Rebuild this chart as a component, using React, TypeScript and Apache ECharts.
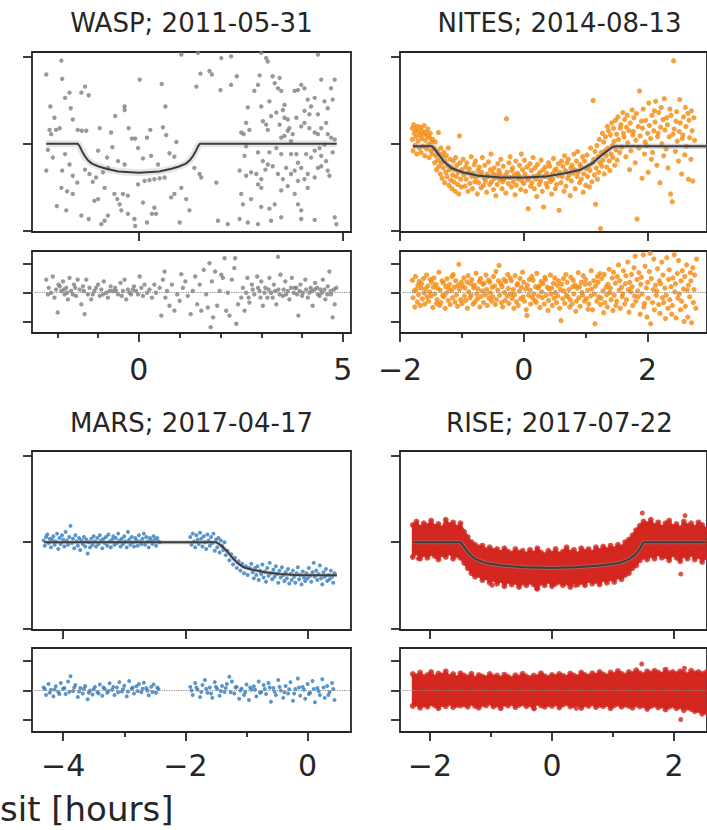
import React, { useEffect, useRef } from "react";
import * as echarts from "echarts";

const INK = "#262626";
const FONT = "DejaVu Sans";

const panelTitles = ["WASP; 2011-05-31", "NITES; 2014-08-13", "MARS; 2017-04-17", "RISE; 2017-07-22"];
const axisNameText = "sit [hours]";

const waspRange = [-2.62, 5.2];
const nitesRange = [-2.0, 2.96];
const marsRange = [-4.51, 0.71];
const riseRange = [-2.49, 2.54];
const mainYRange = [-1.02, 1.06];
const resYRange = [-1.4, 1.43];
const yTicks = [-1, 0, 1];

const waspMajor = [0, 5];
const waspMinor = [-2, -1, 1, 2, 3, 4];
const nitesMajor = [-2, 0, 2];
const nitesMinor = [-1, 1];
const marsMajor = [-4, -2, 0];
const marsMinor = [-3, -1];
const riseMajor = [-2, 0, 2];
const riseMinor = [-1, 1];

// ---------- WASP ----------
const waspMain = [
  -2.27,0.80,-1.90,0.96,-1.88,0.75,-2.17,0.43,-2.07,0.30,-1.81,0.53,-1.70,0.59,-1.67,0.41,-1.62,0.28,-1.41,0.59,-1.32,0.66,-1.23,0.56,-2.03,0.16,-1.94,0.18,-1.50,0.16,-1.40,0.15,-1.29,0.15,-2.23,-0.07,-2.11,-0.16,-2.27,-0.31,-1.88,-0.31,-1.81,-0.12,-1.70,-0.24,-1.62,-0.37,-1.51,-0.45,-1.90,-0.51,-1.76,-0.55,-1.62,-0.58,-2.01,-0.72,-1.78,-0.77,-1.41,-0.83,-1.23,-0.87,-2.19,0.16,-2.15,0.11,
  -0.96,0.18,-0.68,0.13,-0.58,0.32,-0.35,0.43,-0.35,0.39,0.02,0.74,-0.25,0.18,-0.17,0.06,-0.09,0.06,0.20,0.07,0.28,0.16,0.59,0.19,0.67,0.10,0.65,0.43,0.56,0.69,0.92,0.02,0.87,-0.15,0.30,-0.14,0.10,-0.17,-0.02,-0.05,-0.65,-0.04,-0.78,-0.16,-1.00,-0.08,-0.51,-0.20,-0.35,-0.24,0.47,-0.24,0.75,-0.11,-1.05,-0.39,-1.09,-0.66,-1.00,-0.64,-0.84,-0.51,-0.60,-0.58,-0.53,-0.64,-0.39,-0.58,-0.27,-0.60,-0.47,-0.70,-0.43,-0.77,-0.76,-0.83,-0.84,-0.89,-0.92,-0.93,-0.27,-0.81,-0.11,-0.87,-0.09,-0.95,0.10,-0.68,0.20,-0.91,0.38,-0.74,0.42,-0.81,0.32,-0.81,0.79,-0.62,0.87,-0.58,1.04,-0.51,1.16,-0.64,1.24,-0.77,1.00,-0.91,-0.02,-0.47,0.14,-0.43,0.26,-0.42,0.38,-0.41,0.51,-0.40,0.63,-0.39,1.36,-0.28,1.49,-0.35,1.53,-0.39,-0.88,-0.33,-0.76,-0.28,-1.21,-0.35,-1.32,-0.30,-1.13,-0.44,
  1.41,0.66,1.51,0.81,1.73,0.84,1.79,0.80,2.00,0.62,2.26,0.68,2.40,0.78,1.04,1.03,1.45,1.05,
  1.90,-0.45,1.94,-0.89,2.18,-0.93,2.47,-0.31,2.59,-0.14,2.63,0.24,2.67,0.42,2.57,0.11,2.71,0.16,2.83,0.61,2.92,0.68,2.96,0.79,3.00,0.43,3.12,0.22,3.16,0.16,3.04,0.26,3.20,0.49,3.28,0.78,3.33,0.70,3.41,0.64,3.45,0.76,3.49,0.61,3.53,0.39,3.57,0.45,3.37,0.36,3.24,0.32,3.65,0.28,3.69,0.18,3.82,0.61,3.90,0.62,3.98,0.68,4.06,0.64,4.14,0.51,4.22,0.43,4.31,0.53,4.39,0.34,4.47,0.74,4.55,0.49,4.63,0.41,4.71,0.64,4.80,0.74,4.75,0.51,4.59,0.24,4.47,0.18,4.39,0.11,4.31,0.13,4.18,0.18,4.06,0.24,3.98,0.20,3.86,0.30,3.77,0.11,3.73,0.03,3.65,0.15,3.57,0.09,3.49,0.07,4.63,0.11,4.71,0.07,4.80,0.05,4.55,-0.01,4.43,-0.05,4.31,-0.08,4.22,-0.16,4.10,-0.12,3.98,-0.28,3.82,-0.31,3.73,-0.35,3.61,-0.28,3.53,-0.41,3.41,-0.35,3.28,-0.26,3.16,-0.24,3.04,-0.20,2.92,-0.10,3.00,-0.51,2.92,-0.47,2.88,-0.35,2.75,-0.33,2.63,-0.37,2.51,-0.58,2.55,-0.70,2.75,-0.64,3.00,-0.73,3.20,-0.75,3.33,-0.70,3.49,-0.54,3.65,-0.49,3.82,-0.58,3.90,-0.70,3.98,-0.77,4.14,-0.51,4.31,-0.39,4.47,-0.14,4.63,-0.31,4.67,-0.37,4.75,-0.10,2.47,-0.87,2.67,-0.91,2.92,-0.93,3.24,-0.89,3.49,-0.85,3.98,-0.87,4.31,-0.88,4.80,-0.85,4.84,-0.93,2.02,0.99,2.26,1.01,3.00,1.05,3.12,0.99,3.16,0.95,4.39,1.03,3.37,-0.05,3.49,-0.12,3.86,-0.12,2.51,0.13,2.63,-0.03,4.47,-0.26,4.14,-0.35,4.06,-0.41,3.90,-0.43,3.00,-0.41,3.10,-0.30,3.20,-0.10,3.73,-0.12,3.90,-0.22,4.39,-0.28,4.59,-0.20,3.57,0.30,3.45,0.22,4.06,0.38,4.18,0.34
];
const waspRes = [
  -2.27,0.44,-2.21,0.16,-2.15,-0.01,-2.11,0.55,-2.07,-0.18,-1.99,-0.69,-1.97,0.27,-1.90,0.05,-1.86,0.38,-1.82,-0.07,-1.78,0.16,-1.74,-0.24,-1.70,0.50,-1.66,0.05,-1.59,0.27,-1.54,-0.12,-1.50,0.44,-1.45,0.10,-1.41,-0.41,-1.37,0.21,-1.33,-0.75,-1.29,0.44,-1.25,-0.07,-1.21,0.16,-1.17,-0.24,-1.09,0.05,-1.00,0.27,-0.96,-0.12,-0.92,0.10,-0.86,0.38,-0.80,-0.01,-0.76,-0.18,-0.69,0.21,-0.64,0.05,-0.58,0.16,-0.51,-0.07,-0.45,0.33,-0.39,0.05,-0.35,0.44,-0.31,-0.24,-0.27,0.10,-0.19,-0.07,-0.12,0.21,-0.07,0.05,0.02,0.55,0.06,0.16,0.10,-0.12,0.14,0.27,0.20,-0.01,0.26,0.10,0.32,-0.18,0.38,0.27,0.42,-0.01,0.51,0.16,0.55,-0.80,0.59,0.44,0.63,0.72,0.65,-0.18,0.69,0.05,0.75,-0.46,0.81,0.27,0.87,-0.63,0.94,-0.07,1.00,-0.29,1.04,0.63,1.08,0.16,1.14,0.38,1.20,-0.12,1.27,-0.75,1.32,0.05,1.38,0.55,1.43,-0.41,1.49,0.27,1.53,-0.63,1.59,0.78,1.65,-0.07,1.69,-0.52,1.73,1.01,1.76,-1.20,1.79,0.38,1.82,-0.86,1.87,0.72,1.92,-0.46,1.98,0.05,2.02,0.61,2.06,0.50,2.10,1.18,2.14,-0.63,2.18,-0.01,2.22,-0.80,2.28,0.44,2.34,0.84,2.36,1.18,2.39,-1.08,2.43,-0.41,2.51,-0.18,2.55,0.16,2.59,-0.63,2.66,0.50,2.71,-0.35,2.77,0.27,2.83,-0.07,2.90,0.55,2.96,0.05,3.00,0.38,3.04,-0.46,3.10,0.16,3.15,-0.18,3.20,0.50,3.24,-0.01,3.31,0.27,3.37,-0.41,3.42,0.10,3.47,0.61,3.41,1.23,3.53,-0.12,3.59,0.38,3.65,0.05,3.69,-0.24,3.75,0.50,3.82,0.16,3.88,-0.07,3.91,-0.80,3.96,0.27,4.02,-0.01,4.08,0.44,4.14,-0.18,4.21,0.16,4.26,-0.46,4.32,0.33,4.39,-0.07,4.45,0.10,4.51,0.44,4.57,-0.24,4.63,0.21,4.67,0.72,4.71,-0.07,4.75,-0.86,4.80,-0.41,4.84,0.16,
  -2.23,-0.07,-2.03,0.10,-1.94,0.21,-1.84,0.10,-1.76,-0.01,-1.62,-0.07,-1.56,0.16,-1.35,0.05,-1.13,-0.07,-1.05,0.16,-0.88,-0.07,-0.72,0.05,-0.56,0.05,-0.42,-0.12,-0.23,-0.01,-0.15,0.10,-0.02,-0.07,2.63,-0.01,2.69,-0.18,2.79,0.10,2.92,0.16,2.98,-0.18,3.08,-0.01,3.18,0.10,3.28,-0.18,3.34,0.05,3.45,-0.07,3.55,0.10,3.61,-0.07,3.73,0.16,3.80,-0.01,3.86,0.16,3.94,0.05,4.00,-0.12,4.10,0.10,4.18,-0.01,4.24,0.05,4.31,0.10,4.37,0.16,4.43,-0.12,4.49,-0.01,4.55,0.10,4.62,-0.07,4.70,0.05,4.78,0.10
];
const waspModel = [-2.27,0,-1.50,0,-1.45,-0.03,-1.40,-0.08,-1.33,-0.14,-1.25,-0.19,-1.15,-0.23,-1.00,-0.26,-0.80,-0.29,-0.50,-0.32,0,-0.335,0.50,-0.32,0.80,-0.29,1.00,-0.26,1.15,-0.23,1.25,-0.19,1.33,-0.14,1.40,-0.08,1.45,-0.03,1.50,0,4.85,0];

// ---------- NITES ----------
const nitesMain = [
  -1.80,0.18,-1.80,0.05,-1.79,-0.08,-1.78,0.22,-1.77,0.12,-1.76,-0.02,-1.75,0.16,-1.74,0.08,-1.73,-0.12,-1.72,0.20,-1.71,0.03,-1.70,0.14,-1.69,-0.05,-1.68,0.10,-1.67,0.19,-1.66,-0.10,-1.65,0.06,-1.64,0.15,-1.63,-0.03,-1.62,0.11,-1.61,0.21,-1.60,-0.14,-1.59,0.04,-1.58,0.13,-1.57,-0.06,-1.56,0.09,-1.55,0.17,-1.54,-0.01,-1.53,-0.16,-1.52,0.07,-1.51,0.12,-1.50,-0.08,-1.49,0.02,-1.48,-0.12,-1.47,0.05,
  -1.45,-0.05,-1.44,-0.22,-1.43,0.02,-1.42,-0.14,-1.41,-0.30,-1.40,-0.08,-1.39,-0.19,-1.38,0.13,-1.37,-0.26,-1.36,-0.12,-1.35,-0.35,-1.34,-0.05,-1.33,-0.22,-1.32,-0.40,-1.31,-0.15,-1.30,-0.28,-1.29,-0.10,-1.28,-0.45,-1.27,-0.20,-1.26,-0.33,-1.25,-0.14,-1.24,-0.38,-1.23,-0.25,-1.22,-0.05,-1.21,-0.48,-1.20,-0.30,-1.19,-0.18,-1.18,-0.42,-1.17,-0.27,-1.16,-0.52,-1.15,-0.36,-1.14,-0.20,-1.13,-0.44,-1.12,-0.30,-1.11,-0.55,-1.10,-0.16,-1.09,-0.38,-1.08,-0.25,-1.07,-0.47,-1.06,-0.33,-1.05,-0.58,-1.04,0.09,-1.03,-0.22,-1.02,-0.41,-1.01,-0.50,-1.00,-0.30,
  -0.98,-0.18,-0.97,-0.36,-0.95,-0.49,-0.94,-0.27,-0.93,-0.41,-0.92,-0.22,-0.90,-0.55,-0.89,-0.33,-0.88,-0.29,-0.87,-0.46,-0.85,-0.15,-0.84,-0.38,-0.83,-0.52,-0.82,-0.34,-0.80,-0.24,-0.79,-0.44,-0.78,-0.20,-0.77,-0.39,-0.75,-0.58,-0.74,-0.31,-0.73,-0.45,-0.72,-0.27,-0.70,-0.36,-0.69,-0.51,-0.68,-0.33,-0.67,-0.16,-0.65,-0.48,-0.64,-0.40,-0.63,-0.25,-0.62,-0.43,-0.60,-0.56,-0.59,-0.35,-0.58,-0.38,-0.57,-0.21,-0.55,-0.47,-0.54,-0.30,-0.53,-0.12,-0.52,-0.44,-0.50,-0.34,-0.49,-0.53,-0.48,-0.28,-0.47,-0.40,-0.45,-0.60,-0.44,-0.36,-0.43,-0.47,-0.42,-0.23,-0.40,-0.31,-0.39,-0.42,-0.38,-0.35,-0.37,-0.18,-0.35,-0.52,-0.34,-0.44,-0.33,-0.26,-0.32,-0.41,-0.30,-0.37,-0.29,-0.57,-0.28,0.29,-0.27,-0.33,-0.25,-0.46,-0.24,-0.22,-0.23,-0.39,-0.22,-0.15,-0.20,-0.50,-0.19,-0.31,-0.18,-0.28,-0.17,-0.44,-0.15,-0.36,-0.14,-0.59,-0.13,-0.20,-0.12,-0.48,-0.10,-0.34,-0.09,-0.41,-0.08,-0.37,-0.07,-0.25,-0.05,-0.53,-0.04,-0.12,-0.03,-0.43,-0.02,-0.30,0.00,-0.46,0.01,-0.19,
  0.02,-0.35,0.03,-0.55,0.05,-0.27,0.06,-0.42,0.07,-0.75,0.08,-0.40,0.10,-0.23,0.11,-0.49,0.12,-0.31,0.13,-0.45,0.15,-0.16,0.16,-0.38,0.17,-0.52,0.18,-0.28,0.20,-0.41,0.21,-0.61,0.22,-0.24,0.23,-0.36,0.25,-0.47,0.26,-0.33,0.27,-0.43,0.28,-0.19,0.30,-0.55,0.31,-0.30,0.32,-0.73,0.33,-0.38,0.35,-0.27,0.36,-0.46,0.37,-0.34,0.38,-0.50,0.40,-0.22,0.41,-0.40,0.42,-0.26,0.43,-0.44,0.45,-0.58,0.46,-0.35,0.47,-0.41,0.48,-0.17,0.50,-0.31,0.51,-0.52,0.52,-0.29,0.53,-0.47,0.55,-0.37,0.56,-0.23,0.57,-0.77,0.58,-0.33,0.60,-0.45,0.61,-0.20,0.62,-0.38,0.63,-0.26,0.65,-0.55,0.66,-0.14,0.67,-0.31,0.68,-0.49,0.70,-0.22,0.71,-0.40,0.72,-0.18,0.73,-0.36,0.75,-0.60,0.76,-0.28,0.77,-0.43,0.78,-0.25,0.80,-0.34,0.81,-0.12,0.82,-0.30,0.83,-0.52,0.85,-0.20,0.86,-0.38,0.87,-0.09,0.88,-0.33,0.90,-0.45,0.91,-0.24,0.92,-0.27,0.93,-0.41,0.95,-0.15,0.96,-0.56,0.97,-0.35,0.98,-0.20,1.00,-0.48,1.01,-0.29,1.02,-0.13,1.03,-0.38,1.05,-0.26,1.06,-0.50,1.07,-0.31,1.08,-0.05,1.10,-0.44,1.11,-0.22,
  1.12,0.50,1.13,-0.18,1.14,-0.36,1.15,-0.09,1.16,-0.70,1.17,-0.28,1.18,-0.02,1.19,-0.41,1.20,-0.15,1.21,-0.33,1.22,0.05,1.23,-0.22,1.24,-0.98,1.25,-0.10,1.26,-0.26,1.27,0.12,1.28,-0.19,1.29,0.02,1.30,-0.35,1.31,-0.08,1.32,0.08,1.33,-0.14,1.34,-0.27,1.35,0.20,1.36,-0.05,1.37,0.15,1.38,-0.20,1.39,-0.31,1.40,0.10,1.41,-0.12,1.42,0.24,1.43,-0.02,1.44,-0.16,1.45,0.18,1.46,0.03,1.47,-0.25,1.48,0.27,1.49,-0.07,1.50,0.11,1.51,-0.19,
  1.52,0.31,1.53,0.05,1.55,-0.10,1.56,0.18,1.57,0.22,1.58,-0.04,1.60,0.36,1.61,0.12,1.62,0.08,1.63,0.28,1.65,-0.15,1.66,0.19,1.67,0.33,1.68,0.01,1.70,0.15,1.71,-0.30,1.72,0.24,1.73,-0.08,1.75,0.39,1.76,0.10,1.77,0.14,1.78,0.30,1.80,-0.22,1.81,0.04,1.82,0.35,1.83,-0.87,1.85,0.20,1.86,-0.05,1.87,0.61,1.88,0.09,1.90,0.26,1.91,-0.40,1.92,0.18,1.93,0.40,1.95,-0.12,1.96,0.02,1.97,0.27,1.98,-0.02,2.00,0.12,2.01,-0.33,2.02,0.47,2.03,0.21,2.05,0.06,2.06,-0.18,2.07,0.33,2.08,-0.10,2.10,0.15,2.11,0.38,2.12,0.25,2.13,0.49,2.15,-0.25,2.16,0.08,2.17,0.12,2.18,0.36,2.20,-0.45,2.21,0.19,2.22,0.42,2.23,0.00,2.25,0.28,2.26,-0.14,2.27,0.52,2.28,0.16,2.30,-0.06,2.31,0.30,2.32,0.22,2.33,-0.28,2.35,0.08,2.36,0.40,2.37,-0.58,2.38,0.33,2.40,-0.67,2.41,0.11,2.42,0.96,2.43,0.17,2.45,-0.09,2.46,0.26,2.47,0.37,2.48,0.03,2.50,-0.20,2.51,0.14,2.52,0.51,2.53,0.24,2.55,-0.35,2.56,0.06,2.57,0.10,2.58,0.31,2.60,-0.13,2.61,0.42,2.62,0.20,2.63,-0.03,2.65,0.35,2.66,-0.41,2.67,0.27,2.68,0.07,2.70,-0.18,2.71,0.38,2.72,0.15,2.73,-0.43,2.75,0.30,2.76,0.04
];
const nitesRes = [
  -1.80,0.42,-1.79,-0.18,-1.77,0.05,-1.76,-0.50,-1.75,0.55,-1.74,0.10,-1.72,-0.33,-1.71,0.25,-1.70,-0.08,-1.69,0.38,-1.67,-0.45,-1.66,0.15,-1.65,0.30,-1.64,-0.22,-1.62,0.48,-1.61,-0.02,-1.60,-0.40,-1.59,0.12,-1.57,0.60,-1.56,-0.15,-1.55,0.22,-1.54,-0.30,-1.52,0.02,-1.51,0.45,-1.50,-0.12,-1.49,0.35,-1.47,-0.52,-1.46,0.18,-1.45,0.50,-1.44,-0.05,-1.42,0.28,-1.41,-0.38,-1.40,-0.25,-1.39,0.14,-1.37,0.70,-1.36,-0.45,-1.35,0.08,-1.34,-0.35,-1.32,0.40,-1.31,-0.10,-1.30,0.33,-1.29,-0.15,-1.27,-0.55,-1.26,0.20,-1.25,-0.02,-1.24,0.47,-1.22,-0.28,-1.21,0.12,-1.20,0.27,-1.19,-0.42,-1.17,0.06,-1.16,0.55,-1.15,-0.18,-1.14,0.62,-1.12,0.18,-1.11,-0.33,-1.10,0.40,-1.09,-0.08,-1.07,-0.48,-1.06,0.25,-1.05,0.97,-1.04,0.10,-1.02,-0.25,-1.01,0.35,
  -1.00,-0.38,-0.99,0.22,-0.97,0.50,-0.96,-0.12,-0.95,0.15,-0.94,-0.28,-0.92,0.36,-0.91,-0.55,-0.90,0.58,-0.89,0.02,-0.87,-0.18,-0.86,0.30,-0.85,-0.10,-0.84,0.44,-0.82,-0.40,-0.81,0.16,-0.80,0.25,-0.79,-0.33,-0.77,0.66,-0.76,-0.05,-0.75,-0.22,-0.74,0.12,-0.72,0.38,-0.71,-0.50,-0.70,0.48,-0.69,-0.14,-0.67,0.05,-0.66,0.28,-0.65,-0.35,-0.64,0.32,-0.62,-0.08,-0.61,0.60,-0.60,0.10,-0.59,-0.45,-0.57,0.42,-0.56,-0.20,-0.55,0.35,-0.54,-0.02,-0.52,-0.30,-0.51,0.18,-0.50,-0.15,-0.49,0.55,-0.47,0.22,-0.46,-0.42,-0.45,0.72,-0.44,-0.25,-0.42,0.08,-0.41,0.40,-0.40,0.93,-0.39,-0.10,-0.37,0.30,-0.36,-0.35,-0.35,0.20,-0.34,-0.50,-0.32,0.45,-0.31,0.00,-0.30,-0.28,-0.29,0.38,-0.27,-0.12,-0.26,0.62,-0.25,0.14,-0.24,-0.38,-0.22,0.50,-0.21,-0.05,-0.20,0.40,-0.19,-0.20,-0.17,0.10,-0.16,-0.55,-0.15,-0.08,-0.14,0.58,-0.12,-0.32,-0.11,0.26,-0.10,0.30,-0.09,-0.45,-0.07,0.05,-0.06,0.48,-0.05,-0.22,-0.04,0.18,-0.02,0.70,-0.01,-0.15,
  0.00,0.35,0.01,-0.30,0.03,0.12,0.04,-0.60,0.05,-0.80,0.06,0.25,0.08,-0.10,0.09,0.45,0.10,0.08,0.11,-0.40,0.13,0.55,0.14,-0.18,0.15,0.42,0.16,-0.05,0.18,-0.28,0.19,0.20,0.20,-0.35,0.21,0.66,0.23,0.15,0.24,-0.12,0.25,0.22,0.26,-0.52,0.28,0.38,0.29,0.02,0.30,-0.18,0.31,0.30,0.33,-0.40,0.34,0.52,0.35,0.45,0.36,-0.10,0.38,0.18,0.39,-0.62,0.40,-0.28,0.41,0.12,0.43,0.60,0.44,-0.05,0.45,0.15,0.46,-0.45,0.48,0.32,0.49,-0.20,0.50,0.50,0.51,0.00,0.53,-0.35,0.54,0.25,0.55,-0.12,0.56,0.40,0.58,-0.55,0.59,0.10,0.60,-0.97,0.61,0.28,0.63,-0.22,0.64,0.48,0.65,0.05,0.66,-0.38,0.68,0.62,0.69,-0.10,0.70,0.35,0.71,-0.15,0.73,0.10,0.74,-0.50,0.75,-0.25,0.76,0.52,0.78,-0.40,0.79,0.20,0.80,0.42,0.81,-0.05,0.83,0.25,0.84,-0.65,0.85,-0.30,0.86,0.15,0.88,0.68,0.89,-0.18,0.90,0.20,0.91,-0.48,0.93,0.35,0.94,0.00,0.95,-0.10,0.96,0.58,0.98,-0.30,0.99,0.28,
  1.00,0.45,1.01,-0.22,1.03,0.08,1.04,-0.58,1.05,-0.40,1.06,0.30,1.08,-0.12,1.09,0.75,1.10,0.12,1.11,-0.60,1.13,0.40,1.14,-0.05,1.15,-1.08,1.16,0.22,1.18,-0.30,1.19,0.55,1.20,0.35,1.21,-0.15,1.23,0.65,1.24,-0.42,1.25,-0.20,1.26,0.48,1.28,0.05,1.29,-0.70,1.30,0.62,1.31,-0.35,1.33,0.18,1.34,-0.08,1.35,-0.50,1.36,0.28,1.38,0.80,1.39,0.00,1.40,0.15,1.41,-0.25,1.43,0.50,1.44,-0.62,1.45,0.70,1.46,-0.10,1.48,0.32,1.49,-0.45,1.50,-0.30,1.51,0.55,1.53,0.95,1.54,0.08,1.55,0.40,1.56,-0.55,1.58,0.18,1.59,-0.15,1.60,-0.05,1.61,0.75,1.63,-0.40,1.64,0.30,1.65,0.58,1.66,-0.25,1.68,1.05,1.69,0.10,1.70,-0.68,1.71,0.35,1.73,0.02,1.74,0.62,1.75,0.20,1.76,-0.45,1.78,0.85,1.79,-0.12,1.80,1.25,1.81,-0.30,1.83,0.45,1.84,0.05,1.85,-0.15,1.86,0.68,1.88,-0.75,1.89,0.28,1.90,0.52,1.91,-0.05,1.93,1.30,1.94,-0.50,1.95,-0.38,1.96,0.90,1.98,0.15,1.99,-0.85,
  2.00,0.35,2.01,-0.20,2.03,0.72,2.04,1.35,2.05,-1.08,2.06,0.48,2.08,-0.35,2.09,0.10,2.10,1.15,2.11,-0.60,2.13,0.25,2.14,-0.10,2.15,0.05,2.16,0.82,2.18,-0.42,2.19,0.40,2.20,-0.72,2.21,0.30,2.23,1.05,2.24,-0.18,2.25,0.60,2.26,-0.35,2.28,0.15,2.29,-0.90,2.30,-0.10,2.31,1.20,2.33,-0.55,2.34,0.45,2.35,0.78,2.36,-0.25,2.38,0.20,2.39,-0.75,2.40,-0.45,2.41,0.50,2.43,1.30,2.44,0.02,2.45,0.30,2.46,-0.88,2.48,0.65,2.49,-0.20,2.50,1.10,2.51,-0.05,2.53,-0.60,2.54,0.40,2.55,-0.30,2.56,0.75,2.58,0.12,2.59,-1.00,2.60,0.55,2.61,-0.48,2.63,0.95,2.64,0.08,2.65,-0.85,2.66,0.25,2.68,-0.15,2.69,0.68,2.70,0.40,2.71,-1.05,2.73,0.85,2.74,-0.35,2.75,0.10,2.76,0.60,2.78,-0.55,2.79,1.15
];
const nitesModel = [-1.79,-0.03,-1.48,-0.03,-1.40,-0.10,-1.30,-0.20,-1.17,-0.28,-0.99,-0.33,-0.73,-0.37,-0.37,-0.39,0,-0.39,0.35,-0.38,0.66,-0.34,0.92,-0.30,1.12,-0.22,1.28,-0.12,1.43,-0.04,1.48,-0.03,2.95,-0.03];

// ---------- MARS ----------
const marsMain = [
  -4.32,0.02,-4.30,-0.04,-4.28,0.06,-4.26,0.09,-4.24,-0.01,-4.22,0.04,-4.20,-0.06,-4.18,0.03,-4.16,0.07,-4.14,-0.03,-4.12,0.01,-4.10,0.10,-4.08,-0.08,-4.06,0.05,-4.04,-0.02,-4.02,0.08,-4.00,0.03,-3.98,-0.05,-3.96,0.12,-3.94,0.02,-3.92,-0.03,-3.90,0.06,-3.88,0.19,-3.86,-0.01,-3.84,0.04,-3.82,-0.07,-3.80,0.08,-3.78,0.01,-3.76,-0.04,-3.74,0.05,-3.72,-0.09,-3.70,0.02,-3.68,-0.02,-3.66,0.06,-3.64,-0.05,-3.62,0.03,-3.60,-0.13,-3.58,0.00,-3.56,-0.06,-3.54,0.04,-3.52,-0.03,-3.50,0.07,-3.48,0.01,-3.46,-0.05,-3.44,0.05,-3.42,-0.02,-3.40,0.08,-3.38,0.02,-3.36,-0.07,-3.34,0.04,-3.32,-0.01,-3.30,0.06,-3.28,-0.04,-3.26,0.09,-3.24,0.01,-3.22,-0.06,-3.20,0.03,-3.18,0.07,-3.16,-0.03,-3.14,0.05,-3.12,-0.01,-3.10,0.10,-3.08,0.02,-3.06,-0.05,-3.04,0.04,-3.02,-0.02,-3.00,0.07,-2.98,0.01,-2.96,-0.06,-2.94,0.12,-2.92,0.03,-2.90,-0.03,-2.88,0.06,-2.86,0.00,-2.84,-0.05,-2.82,0.05,-2.80,0.02,-2.78,-0.04,-2.76,0.08,-2.74,0.01,-2.72,-0.02,-2.70,0.04,-2.68,0.10,-2.66,-0.03,-2.64,0.06,-2.62,0.01,-2.60,-0.06,-2.58,0.05,-2.56,0.02,-2.54,-0.02,-2.52,0.07,-2.50,0.03,-2.48,-0.04,-2.46,0.05,-2.44,0.01,-2.42,0.00,
  -1.92,0.06,-1.90,-0.03,-1.88,0.10,-1.86,0.01,-1.84,-0.06,-1.82,0.08,-1.80,0.03,-1.78,-0.02,-1.76,0.11,-1.74,0.04,-1.72,-0.05,-1.70,0.07,-1.68,0.00,-1.66,-0.08,-1.64,0.09,-1.62,0.02,-1.60,-0.04,-1.58,0.06,-1.56,-0.01,-1.54,0.10,-1.52,-0.10,-1.50,0.03,-1.48,-0.06,-1.46,0.05,-1.44,-0.12,-1.42,0.02,-1.40,-0.04,-1.38,-0.09,-1.36,0.00,-1.34,-0.15,
  -1.31,-0.10,-1.28,-0.21,-1.25,-0.14,-1.22,-0.26,-1.19,-0.18,-1.16,-0.30,-1.13,-0.22,-1.10,-0.33,-1.07,-0.25,-1.04,-0.36,-1.01,-0.28,-0.98,-0.38,-0.95,-0.30,-0.92,-0.25,
  -0.90,-0.35,-0.88,-0.42,-0.86,-0.30,-0.84,-0.38,-0.82,-0.28,-0.80,-0.44,-0.78,-0.33,-0.76,-0.37,-0.74,-0.26,-0.72,-0.41,-0.70,-0.34,-0.68,-0.46,-0.66,-0.30,-0.64,-0.39,-0.62,-0.24,-0.60,-0.36,-0.58,-0.43,-0.56,-0.32,-0.54,-0.40,-0.52,-0.28,-0.50,-0.37,-0.48,-0.47,-0.46,-0.33,-0.44,-0.41,-0.42,-0.29,-0.40,-0.38,-0.38,-0.45,-0.36,-0.35,-0.34,-0.42,-0.32,-0.31,-0.30,-0.48,-0.28,-0.37,-0.26,-0.44,-0.24,-0.33,-0.22,-0.40,-0.20,-0.47,-0.18,-0.36,-0.16,-0.29,-0.14,-0.43,-0.12,-0.38,-0.10,-0.49,-0.08,-0.34,-0.06,-0.41,-0.04,-0.45,-0.02,-0.36,0.00,-0.42,0.02,-0.30,0.04,-0.39,0.06,-0.46,0.08,-0.35,0.10,-0.24,0.12,-0.40,0.14,-0.33,0.16,-0.44,0.18,-0.37,0.20,-0.27,0.22,-0.42,0.24,-0.49,0.26,-0.35,0.28,-0.40,0.30,-0.31,0.32,-0.45,0.34,-0.38,0.36,-0.43,0.38,-0.33,0.40,-0.40,0.42,-0.47,0.44,-0.36
];
const marsRes = [
  -4.32,0.10,-4.28,-0.15,-4.24,0.22,-4.20,0.02,-4.16,-0.20,-4.12,0.14,-4.08,-0.05,-4.04,0.25,-4.00,0.06,-3.96,-0.12,-3.92,0.30,-3.88,0.48,-3.84,-0.02,-3.80,0.18,-3.76,-0.22,-3.72,0.08,-3.68,-0.10,-3.64,0.15,-3.60,-0.30,-3.56,0.00,-3.52,-0.14,-3.48,0.12,-3.44,-0.05,-3.40,0.20,-3.36,-0.18,-3.32,0.05,-3.28,-0.08,-3.24,0.24,-3.20,0.02,-3.16,-0.15,-3.12,0.10,-3.08,0.28,-3.04,-0.04,-3.00,0.16,-2.96,-0.20,-2.92,0.32,-2.88,0.06,-2.84,-0.10,-2.80,0.14,-2.76,0.22,-2.72,-0.06,-2.68,0.26,-2.64,0.08,-2.60,-0.16,-2.56,0.12,-2.52,0.20,-2.48,-0.08,-2.44,0.05,
  -4.30,0.05,-4.22,-0.08,-4.14,0.03,-4.06,-0.12,-3.98,0.08,-3.90,-0.05,-3.82,0.10,-3.74,-0.04,-3.66,0.06,-3.58,-0.08,-3.50,0.04,-3.42,-0.10,-3.34,0.10,-3.26,-0.02,-3.18,0.12,-3.10,-0.06,-3.02,0.04,-2.94,-0.04,-2.86,0.10,-2.78,-0.02,-2.70,0.06,-2.62,0.00,-2.54,-0.05,-2.46,0.10,
  -1.92,0.12,-1.88,-0.15,-1.84,0.25,-1.80,0.02,-1.76,-0.22,-1.72,0.18,-1.68,0.35,-1.64,-0.08,-1.60,0.10,-1.56,-0.25,-1.52,0.28,-1.48,0.05,-1.44,-0.18,-1.40,0.15,-1.36,-0.05,-1.32,0.22,-1.28,0.46,-1.24,0.30,-1.20,-0.10,-1.16,0.12,-1.12,-0.28,-1.08,0.06,-1.04,-0.15,-1.00,0.20,-0.96,-0.32,-0.92,0.02,-0.88,0.14,-0.84,-0.20,-0.80,0.30,-0.76,-0.05,-0.72,0.18,-0.68,-0.12,-0.64,0.25,-0.60,-0.38,-0.56,0.08,-0.52,-0.15,-0.48,0.35,-0.44,0.00,-0.40,-0.25,-0.36,0.15,-0.32,-0.10,-0.28,0.28,-0.24,-0.35,-0.20,0.05,-0.16,0.40,-0.12,-0.18,-0.08,0.12,-0.04,-0.28,0.00,0.22,0.04,-0.08,0.08,0.32,0.12,-0.40,0.16,0.08,0.20,-0.15,0.24,0.38,0.28,-0.25,0.32,0.15,0.36,-0.05,0.40,0.25,0.44,-0.32,
  -1.90,0.00,-1.82,0.10,-1.74,-0.05,-1.66,0.06,-1.58,-0.10,-1.50,0.12,-1.42,-0.02,-1.34,0.08,-1.26,-0.06,-1.18,0.10,-1.10,0.00,-1.02,-0.05,-0.94,0.10,-0.86,0.02,-0.78,-0.08,-0.70,0.05,-0.62,0.10,-0.54,-0.04,-0.46,0.12,-0.38,-0.06,-0.30,0.04,-0.22,-0.10,-0.14,0.10,-0.06,0.02,0.02,-0.12,0.10,0.05,0.18,-0.02,0.26,0.10,0.34,-0.15,0.42,0.05
];
const marsModel = [-4.31,0,-1.50,0,-1.45,-0.02,-1.38,-0.06,-1.30,-0.12,-1.22,-0.19,-1.15,-0.24,-1.05,-0.29,-0.90,-0.32,-0.70,-0.35,-0.45,-0.37,-0.20,-0.38,0.10,-0.385,0.48,-0.385];

// ---------- RISE (dense band: sampled upper / lower envelope, plus outliers) ----------
const riseX = [-2.28,-2.22,-2.16,-2.10,-2.04,-1.98,-1.92,-1.86,-1.80,-1.74,-1.68,-1.62,-1.56,-1.50,-1.44,-1.38,-1.32,-1.26,-1.20,-1.14,-1.08,-1.02,-0.96,-0.90,-0.84,-0.78,-0.72,-0.66,-0.60,-0.54,-0.48,-0.42,-0.36,-0.30,-0.24,-0.18,-0.12,-0.06,0.00,0.06,0.12,0.18,0.24,0.30,0.36,0.42,0.48,0.54,0.60,0.66,0.72,0.78,0.84,0.90,0.96,1.02,1.08,1.14,1.20,1.26,1.32,1.38,1.44,1.50,1.56,1.62,1.68,1.74,1.80,1.86,1.92,1.98,2.04,2.10,2.16,2.22,2.28,2.34,2.40,2.46,2.52];
const riseHi = [0.20,0.24,0.17,0.22,0.19,0.25,0.18,0.21,0.16,0.26,0.20,0.23,0.17,0.22,0.12,0.06,0.00,-0.03,-0.06,-0.04,-0.09,-0.06,-0.10,-0.08,-0.12,-0.07,-0.11,-0.13,-0.08,-0.12,-0.10,-0.14,-0.09,-0.13,-0.07,-0.12,-0.15,-0.10,-0.13,-0.08,-0.14,-0.11,-0.06,-0.12,-0.09,-0.14,-0.07,-0.11,-0.08,-0.12,-0.06,-0.10,-0.05,-0.09,-0.04,-0.08,-0.03,-0.06,0.00,0.03,0.08,0.14,0.19,0.24,0.21,0.26,0.19,0.23,0.17,0.22,0.25,0.18,0.21,0.16,0.24,0.19,0.22,0.17,0.23,0.20,0.15];
const riseLo = [-0.17,-0.12,-0.19,-0.14,-0.18,-0.13,-0.16,-0.20,-0.14,-0.17,-0.12,-0.19,-0.15,-0.18,-0.24,-0.30,-0.36,-0.40,-0.38,-0.44,-0.41,-0.47,-0.43,-0.48,-0.44,-0.51,-0.45,-0.49,-0.46,-0.52,-0.47,-0.50,-0.46,-0.49,-0.54,-0.47,-0.50,-0.45,-0.51,-0.48,-0.46,-0.50,-0.47,-0.52,-0.45,-0.49,-0.46,-0.50,-0.44,-0.48,-0.45,-0.49,-0.43,-0.47,-0.42,-0.46,-0.40,-0.43,-0.38,-0.36,-0.30,-0.27,-0.21,-0.17,-0.20,-0.15,-0.19,-0.13,-0.18,-0.16,-0.21,-0.14,-0.18,-0.22,-0.15,-0.19,-0.14,-0.20,-0.16,-0.23,-0.17];
const riseOutliers = [1.48,0.34,2.18,0.31,-2.19,-0.19,2.11,-0.37,-0.25,-0.54,0.38,-0.50,-0.98,-0.50,0.02,-0.49];
const riseResHi = [0.55,0.48,0.60,0.45,0.52,0.62,0.44,0.57,0.50,0.64,0.46,0.55,0.42,0.58,0.50,0.44,0.56,0.40,0.52,0.47,0.42,0.55,0.45,0.50,0.41,0.53,0.46,0.40,0.51,0.44,0.56,0.47,0.42,0.50,0.45,0.58,0.48,0.43,0.52,0.46,0.55,0.49,0.44,0.57,0.50,0.45,0.60,0.52,0.47,0.58,0.50,0.62,0.54,0.48,0.60,0.53,0.65,0.56,0.50,0.62,0.55,0.68,0.58,0.52,0.64,0.57,0.66,0.60,0.54,0.70,0.58,0.62,0.55,0.64,0.60,0.52,0.66,0.58,0.62,0.55,0.60];
const riseResLo = [-0.52,-0.45,-0.58,-0.48,-0.55,-0.44,-0.50,-0.60,-0.46,-0.53,-0.42,-0.56,-0.49,-0.51,-0.47,-0.55,-0.43,-0.52,-0.58,-0.46,-0.50,-0.41,-0.54,-0.48,-0.60,-0.45,-0.51,-0.43,-0.56,-0.49,-0.44,-0.53,-0.47,-0.58,-0.42,-0.50,-0.55,-0.46,-0.52,-0.44,-0.57,-0.48,-0.43,-0.54,-0.50,-0.45,-0.59,-0.47,-0.52,-0.44,-0.56,-0.49,-0.53,-0.46,-0.60,-0.50,-0.45,-0.55,-0.48,-0.52,-0.58,-0.47,-0.54,-0.50,-0.62,-0.53,-0.48,-0.57,-0.51,-0.64,-0.55,-0.50,-0.60,-0.54,-0.66,-0.58,-0.62,-0.70,-0.66,-0.78,-0.72];
const riseResOutliers = [1.47,0.89,2.17,0.75,-2.19,-0.44,2.11,-0.98,-0.29,-0.62,0.40,-0.60];
const riseModel = [-2.26,0,-1.50,0,-1.43,-0.065,-1.35,-0.14,-1.24,-0.20,-1.09,-0.24,-0.83,-0.27,-0.46,-0.29,0,-0.30,0.38,-0.29,0.79,-0.27,1.11,-0.24,1.26,-0.20,1.37,-0.14,1.45,-0.065,1.50,0,2.52,0];

// ---------- layout ----------
const GRID_W = 319;
const layout = [
  { left: 32, mainTop: 52, mainH: 180, resTop: 251, resH: 82, labelMargin: 21, titleY: 23 },
  { left: 400, mainTop: 52, mainH: 180, resTop: 251, resH: 82, labelMargin: 21, titleY: 23 },
  { left: 32, mainTop: 451, mainH: 179, resTop: 648, resH: 84, labelMargin: 18, titleY: 423 },
  { left: 400, mainTop: 451, mainH: 179, resTop: 648, resH: 84, labelMargin: 18, titleY: 423 },
];

const GREY = "#808080";
const ORANGE = "#f48a0e";
const BLUE = "#2f7cc1";
const RED = "#d3271f";
const MODEL = "#3d3d3d";
const HALO = "rgba(150,150,150,0.45)";

function pairs(a: number[]) {
  const out: number[][] = [];
  for (let i = 0; i + 1 < a.length; i += 2) out.push([a[i], a[i + 1]]);
  return out;
}

function fmt(v: number) {
  return v < 0 ? "\u2212" + Math.abs(v) : String(v);
}

function buildOption() {
  const panels = [
    { range: waspRange, major: waspMajor, minor: waspMinor, color: GREY, size: 4.4, main: pairs(waspMain), res: pairs(waspRes), model: pairs(waspModel), band: false, halo: "rgba(150,150,150,0.25)", haloW: 7 },
    { range: nitesRange, major: nitesMajor, minor: nitesMinor, color: ORANGE, size: 5.2, main: pairs(nitesMain), res: pairs(nitesRes), model: pairs(nitesModel), band: false, halo: HALO, haloW: 5 },
    { range: marsRange, major: marsMajor, minor: marsMinor, color: BLUE, size: 4, main: pairs(marsMain), res: pairs(marsRes), model: pairs(marsModel), band: false, halo: HALO, haloW: 4 },
    { range: riseRange, major: riseMajor, minor: riseMinor, color: RED, size: 5, main: pairs(riseOutliers), res: pairs(riseResOutliers), model: pairs(riseModel), band: true, halo: HALO, haloW: 4 },
  ];
  const grid: any[] = [];
  const xAxis: any[] = [];
  const yAxis: any[] = [];
  const series: any[] = [];
  const graphic: any[] = [];
  const tickStyle = { color: INK, width: 1.8 };
  const noLine = { show: false, onZero: false };

  panels.forEach((p, i) => {
    const L = layout[i];
    const gMain = 2 * i;
    const gRes = 2 * i + 1;
    grid.push({ left: L.left, top: L.mainTop, width: GRID_W, height: L.mainH, show: true, borderColor: INK, borderWidth: 1.8, backgroundColor: "#fff" });
    grid.push({ left: L.left, top: L.resTop, width: GRID_W, height: L.resH, show: true, borderColor: INK, borderWidth: 1.8, backgroundColor: "#fff" });
    const baseX = {
      type: "value", min: p.range[0], max: p.range[1], position: "bottom",
      axisLine: noLine, splitLine: { show: false }, minorTick: { show: false },
    };
    xAxis.push({ ...baseX, gridIndex: gMain, axisLabel: { show: false }, axisTick: { show: true, inside: false, length: 9, lineStyle: tickStyle, customValues: p.major } });
    xAxis.push({ ...baseX, gridIndex: gRes, axisTick: { show: true, inside: false, length: 9, lineStyle: tickStyle, customValues: p.major },
      axisLabel: { show: true, customValues: p.major, formatter: fmt, fontSize: 30, fontFamily: FONT, color: INK, margin: L.labelMargin } });
    xAxis.push({ ...baseX, gridIndex: gRes, axisLabel: { show: false }, axisTick: { show: true, inside: false, length: 5, lineStyle: tickStyle, customValues: p.minor } });
    const baseY = { type: "value", position: "left", axisLine: noLine, splitLine: { show: false }, axisLabel: { show: false },
      axisTick: { show: true, inside: false, length: 9, lineStyle: tickStyle, customValues: yTicks } };
    yAxis.push({ ...baseY, gridIndex: gMain, min: mainYRange[0], max: mainYRange[1] });
    yAxis.push({ ...baseY, gridIndex: gRes, min: resYRange[0], max: resYRange[1] });

    const xm = 3 * i, xr = 3 * i + 1, ym = 2 * i, yr = 2 * i + 1;

    if (p.band) {
      const bandSeries = (hi: number[], lo: number[], xi: number, yi: number) => ({
        type: "custom", xAxisIndex: xi, yAxisIndex: yi, silent: true, z: 2, data: [[0, 0]],
        renderItem: (_params: any, api: any) => {
          const pts: number[][] = [];
          for (let k = 0; k < riseX.length; k++) pts.push(api.coord([riseX[k], hi[k]]));
          for (let k = riseX.length - 1; k >= 0; k--) pts.push(api.coord([riseX[k], lo[k]]));
          return { type: "polygon", shape: { points: pts }, style: { fill: RED, stroke: RED, lineWidth: 2 } };
        },
      });
      series.push(bandSeries(riseHi, riseLo, xm, ym));
      series.push(bandSeries(riseResHi, riseResLo, xr, yr));
      const edge = (hi: number[], lo: number[]) => riseX.map((x, k) => [x, hi[k]]).concat(riseX.map((x, k) => [x, lo[k]]));
      series.push({ type: "scatter", xAxisIndex: xm, yAxisIndex: ym, data: edge(riseHi, riseLo), symbolSize: 6, itemStyle: { color: RED }, silent: true, z: 2 });
      series.push({ type: "scatter", xAxisIndex: xr, yAxisIndex: yr, data: edge(riseResHi, riseResLo), symbolSize: 6, itemStyle: { color: RED }, silent: true, z: 2 });
    }

    series.push({ type: "scatter", xAxisIndex: xm, yAxisIndex: ym, data: p.main, symbolSize: p.size, itemStyle: { color: p.color }, silent: true, z: 2 });
    series.push({ type: "line", xAxisIndex: xm, yAxisIndex: ym, data: p.model, showSymbol: false, symbol: "none", silent: true, z: 3,
      lineStyle: { color: p.halo, width: p.haloW } });
    series.push({ type: "line", xAxisIndex: xm, yAxisIndex: ym, data: p.model, showSymbol: false, symbol: "none", silent: true, z: 4,
      lineStyle: { color: MODEL, width: 2 } });
    series.push({ type: "scatter", xAxisIndex: xr, yAxisIndex: yr, data: p.res, symbolSize: p.size, itemStyle: { color: p.color }, silent: true, z: 2,
      markLine: { silent: true, symbol: ["none", "none"], label: { show: false }, lineStyle: { type: "dotted", color: "#8c8c8c", width: 1.2 }, data: [{ yAxis: 0 }] } });

    graphic.push({ type: "text", x: L.left + GRID_W / 2, y: L.titleY, silent: true,
      style: { text: panelTitles[i], fontSize: 26, fontFamily: FONT, fill: INK, align: "center", verticalAlign: "middle" } });
  });

  graphic.push({ type: "text", x: 0, y: 809, silent: true,
    style: { text: axisNameText, fontSize: 34, fontFamily: FONT, fill: INK, align: "left", verticalAlign: "middle" } });

  return { animation: false, backgroundColor: "#fff", grid, xAxis, yAxis, series, graphic };
}

export default function App() {
  const ref = useRef<HTMLDivElement>(null);
  useEffect(() => {
    if (!ref.current) return;
    const chart = echarts.init(ref.current, null, { renderer: "svg" });
    chart.setOption(buildOption() as any);
    return () => chart.dispose();
  }, []);
  return <div ref={ref} style={{ position: "fixed", left: 0, top: 0, width: 707, height: 830, background: "#fff" }} />;
}
